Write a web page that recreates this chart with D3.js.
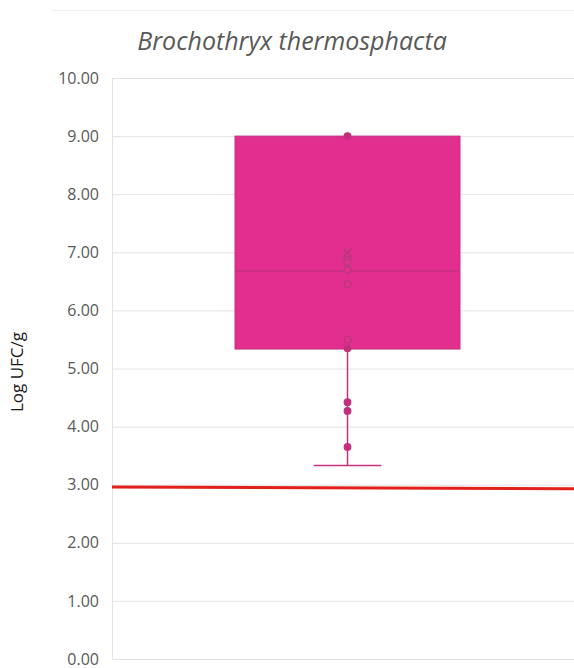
<!DOCTYPE html>
<html>
<head>
<meta charset="utf-8">
<script src="https://cdn.jsdelivr.net/npm/d3@7"></script>
<style>
  html, body { margin: 0; padding: 0; background: #fff; }
  svg { display: block; }
</style>
</head>
<body>
<svg id="chart" width="574" height="668"></svg>
<script>
// Bacterial counts (log UFC/g) for a single group
const categories = ["Brochothryx thermosphacta"];
const boxMin = [3.33];
const boxQ1 = [5.335];
const boxMedian = [6.68];
const boxQ3 = [9.0];
const boxMax = [9.0];
const boxMean = [6.99];
const samplePoints = [9.0, 6.87, 6.82, 6.70, 6.45, 5.50, 5.35, 4.42, 4.27, 3.65];
const limitLine = [2.96, 2.93]; // reference limit, left and right end
const yTicks = [0, 1, 2, 3, 4, 5, 6, 7, 8, 9, 10];
const chartTitle = "Brochothryx thermosphacta";
const yTitle = "Log UFC/g";

const svg = d3.select("#chart");
const plot = { left: 112, right: 583, top: 78, bottom: 659 };

const y = d3.scaleLinear().domain([0, 10]).range([plot.bottom, plot.top]);
const x = d3.scaleBand().domain(categories).range([plot.left, plot.right]).padding(0.3535);

// outer frame line
svg.append("line")
  .attr("x1", 52).attr("x2", 574).attr("y1", 10.5).attr("y2", 10.5)
  .attr("stroke", "#f0f0f0").attr("stroke-width", 1);

// gridlines + tick labels
const yAxis = d3.axisLeft(y).tickValues(yTicks).tickFormat(d3.format(".2f"))
  .tickSize(-(574 - plot.left)).tickPadding(13);
const gy = svg.append("g").attr("transform", `translate(${plot.left},0)`).call(yAxis);
gy.select(".domain").remove();
gy.selectAll(".tick line").attr("stroke", "#e3e3e3").attr("stroke-width", 1);
gy.selectAll(".tick text")
  .attr("fill", "#595959")
  .style("font-family", "'Open Sans', sans-serif")
  .style("font-size", "16px");

// vertical axis line
svg.append("line")
  .attr("x1", plot.left + 0.5).attr("x2", plot.left + 0.5)
  .attr("y1", plot.top).attr("y2", plot.bottom)
  .attr("stroke", "#e3e3e3");

// title
svg.append("text")
  .attr("x", 292).attr("y", 50)
  .attr("text-anchor", "middle")
  .attr("fill", "#595959")
  .style("font-family", "'Open Sans', sans-serif")
  .style("font-style", "italic")
  .style("font-size", "25px")
  .text(chartTitle);

// y-axis title
svg.append("text")
  .attr("transform", `translate(23,372) rotate(-90)`)
  .attr("text-anchor", "middle")
  .attr("fill", "#1a1a1a")
  .style("font-family", "'Open Sans', sans-serif")
  .style("font-size", "17px")
  .text(yTitle);

const boxFill = "#e22e8e";
const boxStroke = "#c4307c";
const pointColor = "#c2307c";

categories.forEach((c, i) => {
  const x0 = x(c), bw = x.bandwidth(), cx = x0 + bw / 2;
  const capHalf = bw * 0.15;

  // lower whisker
  svg.append("line")
    .attr("x1", cx).attr("x2", cx)
    .attr("y1", y(boxMin[i])).attr("y2", y(boxQ1[i]))
    .attr("stroke", boxStroke).attr("stroke-width", 1.5);
  svg.append("line")
    .attr("x1", cx - capHalf).attr("x2", cx + capHalf)
    .attr("y1", y(boxMin[i])).attr("y2", y(boxMin[i]))
    .attr("stroke", boxStroke).attr("stroke-width", 1.5);
  // upper whisker
  svg.append("line")
    .attr("x1", cx).attr("x2", cx)
    .attr("y1", y(boxMax[i])).attr("y2", y(boxQ3[i]))
    .attr("stroke", boxStroke).attr("stroke-width", 1.5);

  // box
  svg.append("rect")
    .attr("x", x0).attr("width", bw)
    .attr("y", y(boxQ3[i])).attr("height", y(boxQ1[i]) - y(boxQ3[i]))
    .attr("fill", boxFill).attr("stroke", boxStroke).attr("stroke-width", 1);

  // median
  svg.append("line")
    .attr("x1", x0).attr("x2", x0 + bw)
    .attr("y1", y(boxMedian[i])).attr("y2", y(boxMedian[i]))
    .attr("stroke", boxStroke).attr("stroke-width", 1.5);

  // points: outlined inside the box, solid outside
  samplePoints.forEach(v => {
    const inside = v > boxQ1[i] + 0.05 && v < boxQ3[i] - 0.05;
    svg.append("circle")
      .attr("cx", cx).attr("cy", y(v)).attr("r", 3.3)
      .attr("fill", inside ? boxFill : pointColor)
      .attr("stroke", inside ? "#b53a7c" : pointColor)
      .attr("stroke-width", 1.2);
  });

  // mean marker
  const my = y(boxMean[i]), s = 4;
  svg.append("path")
    .attr("d", `M${cx - s},${my - s}L${cx + s},${my + s}M${cx - s},${my + s}L${cx + s},${my - s}`)
    .attr("stroke", "#b53a7c").attr("stroke-width", 1.5).attr("fill", "none");
});

// limit line
svg.append("line")
  .attr("x1", plot.left).attr("x2", 574)
  .attr("y1", y(limitLine[0])).attr("y2", y(limitLine[1]))
  .attr("stroke", "#e4201c").attr("stroke-width", 3);
</script>
</body>
</html>
